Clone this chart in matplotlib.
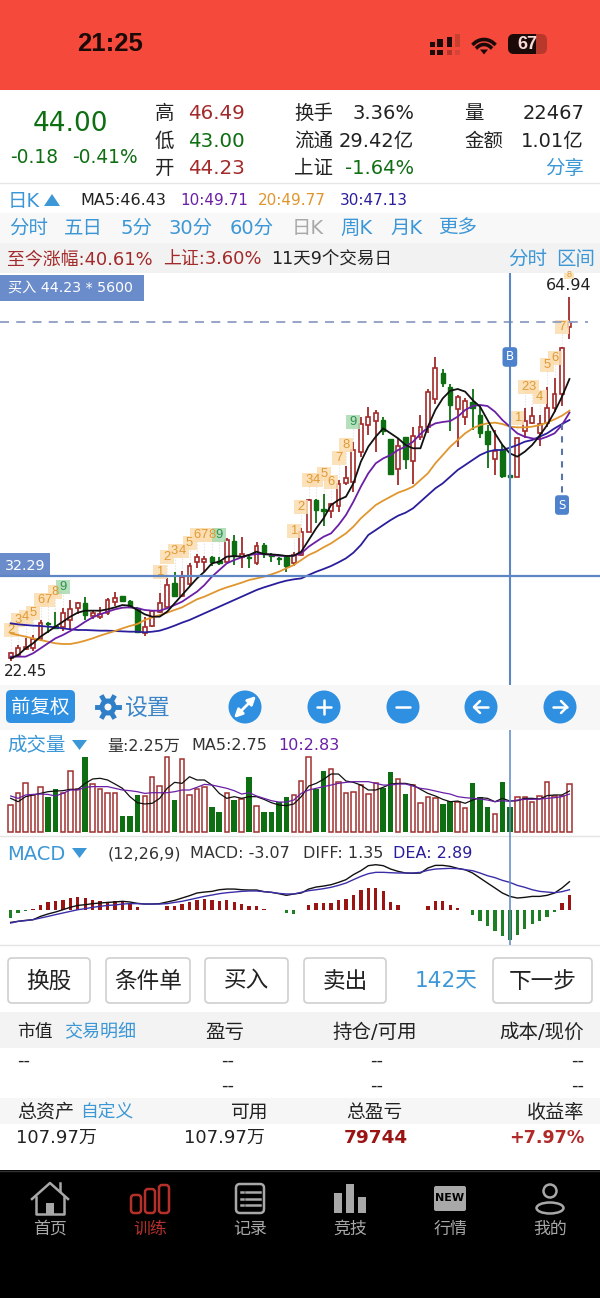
import matplotlib
matplotlib.use('Agg')
import matplotlib.pyplot as plt
import numpy as np
from matplotlib.patches import Rectangle, FancyBboxPatch, Circle, Polygon, Ellipse

plt.rcParams['font.family'] = ['DejaVu Sans', 'Noto Sans CJK SC']

# candles
highs = [23.42,24.20,24.98,25.37,27.13,26.93,28.10,28.50,29.47,29.28,29.78,28.22,28.61,29.67,30.44,29.94,29.47,28.61,27.52,28.30,
         30.33,32.00,32.78,32.90,33.76,34.81,34.62,34.62,34.54,36.69,37.08,36.88,34.66,36.30,36.10,34.93,34.54,34.62,35.13,37.86,
         41.26,41.26,41.88,40.79,43.52,45.16,48.00,50.85,52.10,51.71,50.93,48.31,48.47,48.59,49.68,51.12,54.17,57.95,56.55,54.72,
         53.47,53.08,54.17,52.30,49.95,49.37,47.62,44.10,48.47,51.91,52.02,51.12,54.44,55.42,59.04,64.94]
tops = [23.23,23.89,23.93,24.87,26.82,26.82,26.43,27.99,28.38,29.16,29.16,27.91,27.79,29.47,29.67,29.90,29.35,28.50,26.27,28.18,
        29.08,31.22,31.42,32.20,33.45,34.46,34.31,34.46,34.07,36.49,36.41,34.81,34.54,35.79,35.87,34.74,34.42,34.46,34.74,37.39,
        41.18,41.18,40.09,40.71,43.05,43.75,47.03,50.07,50.93,51.32,50.54,48.31,47.53,48.51,48.71,49.68,53.78,56.63,56.00,54.44,
        53.19,52.77,52.69,51.12,49.25,46.91,47.03,44.10,48.39,50.46,51.05,50.07,51.91,53.58,59.00,62.05]
bots = [22.64,23.03,23.74,23.81,24.87,26.62,26.23,26.35,27.13,28.50,27.71,27.64,27.52,27.99,29.20,29.39,28.69,25.76,25.65,26.43,
        28.10,28.69,29.94,29.94,31.34,33.92,33.88,33.88,33.84,33.96,34.62,34.54,34.42,33.84,34.85,34.62,34.31,33.45,33.76,34.74,
        37.47,40.01,39.93,39.93,40.48,43.13,43.25,46.83,49.95,50.46,49.29,44.22,44.77,45.94,45.70,48.59,49.68,52.96,54.83,52.30,
        51.79,50.85,51.91,49.05,47.73,45.94,44.03,43.91,43.91,49.25,50.15,48.98,50.15,51.98,53.58,61.39]
lows = [22.37,22.84,23.62,23.54,24.71,25.65,26.15,25.88,25.96,27.83,27.13,27.21,27.21,27.71,28.77,29.35,28.61,25.69,25.30,26.35,
        27.99,28.61,29.86,29.78,31.11,33.18,32.78,33.45,33.57,33.84,33.57,33.25,33.25,33.57,34.35,33.96,33.57,32.78,33.45,34.62,
        37.39,38.45,38.13,39.03,39.81,42.93,42.15,46.17,48.78,46.83,48.78,44.14,42.93,44.77,43.00,48.20,48.98,52.41,54.44,49.29,
        47.42,49.95,49.37,48.47,44.88,44.10,43.72,43.91,43.83,48.39,50.03,47.50,49.76,51.51,52.18,59.98]
updown = "RRRRRGGRRRGRRRRGGGRRRRGRRRRGGRGRGRGGGGRRRGGRRRRRRRGGRGRRRRGGRRGGGRGGRRRRRRRR"

ma5 = [22.64,23.03,23.81,24.40,25.18,25.76,26.35,26.93,27.52,27.99,28.22,28.22,28.22,28.38,28.61,28.88,28.80,28.30,27.79,27.52,
       27.52,28.10,29.08,30.05,31.03,32.00,32.78,33.76,33.96,34.54,34.62,34.54,34.74,35.13,34.85,34.81,34.74,34.62,34.66,35.13,
       36.49,37.86,39.03,40.59,41.18,41.57,43.13,45.66,47.42,48.59,49.56,48.98,48.39,47.62,47.23,47.23,49.76,51.71,53.08,53.97,
       54.17,53.86,52.88,52.10,50.54,48.98,47.62,46.64,46.25,46.83,47.62,48.71,49.95,51.51,53.27,55.34]
ma10 = [22.84,22.84,22.84,23.23,23.81,24.40,24.98,25.37,25.84,26.35,26.93,27.44,27.79,28.10,28.38,28.57,28.61,28.50,28.30,28.22,
        28.22,28.50,28.88,29.27,29.86,30.44,31.22,32.20,32.98,33.76,34.15,34.46,34.74,34.85,34.85,34.74,34.66,34.62,34.66,34.93,
        35.71,36.30,36.88,37.27,38.25,39.42,40.98,42.74,44.30,45.47,46.05,46.44,47.03,47.42,48.00,48.90,49.68,50.15,50.31,50.42,
        50.93,51.71,52.18,52.30,52.18,51.51,50.54,49.76,48.98,48.59,48.39,48.28,48.59,48.98,49.95,51.40]
ma20 = [25.57,25.37,25.18,24.98,24.79,24.59,24.40,24.32,24.32,24.48,24.71,24.98,25.30,25.57,25.84,26.15,26.43,26.66,27.13,27.44,
        27.71,27.99,28.30,28.61,29.08,29.55,29.86,30.25,30.64,30.95,31.22,31.50,31.81,32.00,32.20,32.47,32.78,33.18,33.57,34.15,
        34.74,35.13,35.64,36.10,36.69,37.27,38.06,39.03,39.81,40.59,41.10,41.57,42.04,42.35,42.74,43.52,44.30,45.47,46.44,47.42,
        48.20,48.98,49.56,49.95,50.15,50.23,50.07,49.76,49.68,49.68,49.76,49.95,50.23,50.62,51.05,51.63]
ma30 = [26.74,26.62,26.54,26.47,26.43,26.35,26.27,26.15,26.04,25.96,25.96,25.92,25.88,25.88,25.84,25.80,25.76,25.76,25.69,25.76,
        25.88,26.15,26.47,26.82,27.13,27.52,27.91,28.30,28.69,29.08,29.47,29.86,30.25,30.64,30.95,31.22,31.50,31.73,31.89,32.00,
        32.40,32.78,33.10,33.45,33.88,34.35,35.01,35.91,37.08,37.66,38.25,38.83,39.34,39.69,40.20,40.98,41.76,42.54,43.13,43.91,
        44.69,45.27,45.86,46.44,46.83,47.03,47.03,47.30,47.61,48.00,48.20,48.59,48.98,49.56,50.07,50.54]

# TD count labels above the candles
td_index = [0,1,2,3,4,5,6,7, 20,21,22,23,24,25,26,27,28, 38,39,40,41,42,43,44,45,46, 68,69,70,71,72,73,74,75]
td_count = [2,3,4,5,6,7,8,9, 1,2,3,4,5,6,7,8,9, 1,2,3,4,5,6,7,8,9, 1,2,3,4,5,6,7,8]
td_price = [25.96,27.13,27.52,27.91,29.47,29.47,30.44,30.95,
            32.78,34.46,35.25,35.25,36.10,37.08,37.08,37.08,37.08,
            37.59,40.32,43.52,43.52,44.22,43.24,46.05,47.61,50.35,
            50.74,54.37,54.37,53.27,56.98,57.76,61.39,67.63]

volume = [2.40,3.49,4.38,3.29,4.03,3.08,3.79,3.43,5.45,3.79,6.63,4.26,3.79,3.43,3.43,1.42,1.42,3.29,3.23,4.91,
          4.11,6.69,2.84,6.45,3.29,3.79,4.03,2.25,1.78,3.43,2.84,2.90,4.85,2.34,1.78,1.78,2.63,3.14,3.29,4.53,
          6.69,3.82,5.45,5.56,4.41,3.49,3.58,4.17,3.37,4.38,3.88,5.30,4.68,3.34,4.17,2.55,3.14,3.05,2.49,2.75,
          2.63,2.16,4.38,3.14,2.25,1.57,4.44,2.25,3.14,3.14,2.63,3.20,4.44,3.23,3.23,4.26]
vol_ma5 = [2.99,2.69,3.14,3.29,3.43,3.58,3.64,3.67,3.79,3.79,4.32,4.71,4.77,4.62,4.26,3.88,3.14,2.60,2.49,2.55,
           2.99,3.88,4.41,4.32,4.91,4.62,4.62,4.17,3.43,2.99,3.14,2.99,3.14,3.14,2.90,2.60,2.40,2.34,2.49,3.14,
           4.08,4.32,4.68,5.15,5.15,4.53,4.41,4.17,3.73,3.73,3.97,4.26,4.32,4.32,4.17,3.79,3.43,3.20,2.90,2.69,
           2.75,2.55,2.84,3.05,2.99,2.69,2.99,2.75,2.78,2.99,2.99,2.93,3.23,3.29,3.29,3.64]
vol_ma10 = [3.20,2.99,3.29,3.34,3.37,3.34,3.20,3.43,3.73,3.73,3.97,4.03,4.03,4.03,3.88,3.73,3.67,3.58,3.43,3.49,
            3.49,3.49,3.58,3.73,3.73,3.97,4.23,4.17,4.03,3.88,3.67,3.37,3.49,3.20,2.99,2.78,2.66,2.66,2.84,3.43,
            3.73,3.88,4.03,4.17,4.32,4.41,4.47,4.47,4.47,4.32,4.17,4.17,4.26,4.26,4.08,3.88,3.79,3.64,3.49,3.37,
            3.14,3.05,2.99,2.93,2.84,2.69,2.78,2.72,2.84,2.90,2.90,2.93,2.99,3.05,3.14,3.37]

macd = [-0.83,-0.31,-0.07,0.07,0.48,0.79,0.90,1.07,1.24,1.35,1.24,1.04,0.90,0.86,0.97,0.93,0.66,0.28,0.02,0.02,
        0.02,0.38,0.38,0.66,0.86,1.07,1.17,1.07,0.97,1.04,0.79,0.62,0.38,0.38,0.14,0.02,-0.03,-0.31,-0.41,0.02,
        0.48,0.69,0.69,0.76,1.00,1.14,1.55,2.04,2.31,2.31,1.93,0.83,0.48,0.02,-0.03,-0.03,0.38,0.90,0.90,0.48,
        0.21,0.03,-0.48,-1.10,-1.69,-2.21,-2.73,-3.07,-2.56,-1.97,-1.42,-1.17,-0.76,-0.24,0.72,1.59]
diff = [-1.28,-1.17,-1.07,-1.00,-0.66,-0.41,-0.21,0.03,0.28,0.48,0.55,0.66,0.72,0.79,0.83,0.90,0.83,0.69,0.62,0.62,
        0.66,0.83,1.00,1.24,1.48,1.76,1.86,1.93,2.10,2.17,2.17,2.10,2.07,2.07,1.90,1.83,1.69,1.52,1.66,1.76,
        2.17,2.38,2.48,2.62,2.86,3.14,3.66,4.07,4.59,4.69,4.59,4.24,4.00,3.83,3.80,3.83,4.35,4.62,4.62,4.52,
        4.31,4.17,3.83,3.31,2.79,2.28,1.76,1.41,1.24,1.31,1.41,1.41,1.52,1.76,2.28,2.93]
dea = [-1.35,-1.17,-1.10,-1.00,-0.83,-0.66,-0.48,-0.31,-0.14,0.03,0.14,0.28,0.38,0.48,0.52,0.62,0.66,0.66,0.62,0.62,
       0.62,0.66,0.79,0.90,1.07,1.24,1.41,1.55,1.69,1.79,1.86,1.93,1.97,1.97,1.90,1.83,1.72,1.66,1.66,1.83,
       2.00,2.10,2.21,2.35,2.55,2.79,3.14,3.48,3.76,3.90,3.90,3.86,3.83,3.83,3.83,3.90,4.11,4.24,4.28,4.31,
       4.28,4.17,4.07,3.83,3.55,3.35,3.07,2.86,2.55,2.35,2.10,1.93,1.86,1.79,1.90,2.10]

RED = '#A32A2A'
DARK_RED = '#9A1414'
GREEN = '#0E6E12'
BLUE = '#3C97D6'
BTN_BLUE = '#2F90E2'
BOX_BLUE = '#6A8CCB'
LINE_BLUE = '#5F86C4'
PURPLE = '#6A1FA5'
ORANGE = '#E0962E'
NAVY = '#2A1E9C'
TXT = '#222222'
STATUS = '#1C0A08'

W, H = 600, 1298
fig = plt.figure(figsize=(W / 100, H / 100), dpi=100)
bg = fig.add_axes([0, 0, 1, 1])
bg.set_xlim(0, W)
bg.set_ylim(H, 0)
bg.axis('off')


def txt(x, y, s, size=14, color=TXT, ha='left', **kw):
    # va center sits a little high with these fonts
    bg.text(x, y + size * 0.08, s, fontsize=size, color=color, ha=ha, va='center', **kw)


def band(y0, y1, color, x0=0, x1=W):
    bg.add_patch(Rectangle((x0, y0), x1 - x0, y1 - y0, fc=color, ec='none', zorder=0))


def round_box(x0, y0, x1, y1, fc, ec='none', lw=1.0, r=3, z=1):
    bg.add_patch(FancyBboxPatch((x0 + r, y0 + r), x1 - x0 - 2 * r, y1 - y0 - 2 * r,
                                boxstyle='round,pad=%d' % r, fc=fc, ec=ec, lw=lw, zorder=z))


def tri(x0, x1, y0, y1, up=True):
    if up:
        pts = [(x0, y1), (x1, y1), ((x0 + x1) / 2, y0)]
    else:
        pts = [(x0, y0), (x1, y0), ((x0 + x1) / 2, y1)]
    bg.add_patch(Polygon(pts, fc=BLUE, ec='none'))


def panel(top, bottom, ymin, ymax):
    ax = fig.add_axes([0, 1 - bottom / H, 1, (bottom - top) / H])
    ax.patch.set_alpha(0)
    ax.axis('off')
    ax.set_xlim(-10.7 / 7.45, (W - 10.7) / 7.45)
    ax.set_ylim(ymin, ymax)
    return ax


# ---------- status bar ----------
band(0, 90, '#F4493B')
txt(110, 43, '21:25', 18.5, STATUS, 'center', fontweight='bold', family='Liberation Sans')
for x0, w, y_top, c_top, c_low in [(430, 5, 42, STATUS, STATUS), (437, 6, 39, STATUS, STATUS),
                                   (447, 5, 37, STATUS, '#B5372C'), (455, 5, 34, '#C8402F', '#D9443A')]:
    bg.add_patch(Rectangle((x0, y_top), w, 47 - y_top, fc=c_top, ec='none'))
    bg.add_patch(Rectangle((x0, 49.5), w, 5, fc=c_low, ec='none'))
ang = np.radians(np.linspace(-135, -45, 20))
for r in [14.5, 9.5]:
    bg.plot(484 + r * np.cos(ang), 54 + r * np.sin(ang), color=STATUS, lw=2.6)
bg.add_patch(Polygon([(484, 54.5), (480, 49.5), (488, 49.5)], fc=STATUS, ec='none'))
round_box(508, 34, 547, 54, '#B8382C', r=6)
round_box(508, 34, 536, 54, STATUS, r=6, z=2)
bg.add_patch(Rectangle((530, 34), 6, 20, fc=STATUS, ec='none', zorder=2))
bg.text(527, 44.5, '67', fontsize=13, color='#F7DAD6', ha='center', va='center', fontweight='bold',
        family='Liberation Sans', zorder=3)

# ---------- quote block ----------
txt(70, 122, '44.00', 19, GREEN, 'center')
txt(10, 156, '-0.18', 13.4, GREEN)
txt(72, 156, '-0.41%', 13.4, GREEN)
for y, a, b, c in [(112, '高', '46.49', RED), (140, '低', '43.00', GREEN), (167, '开', '44.23', RED)]:
    txt(155, y, a, 14)
    txt(245, y, b, 14.3, c, 'right')
for y, a, b, c in [(112, '换手', '3.36%', TXT), (140, '流通', '29.42亿', TXT), (167, '上证', '-1.64%', GREEN)]:
    txt(294, y, a, 14)
    txt(414, y, b, 14, c, 'right')
txt(464, 112, '量', 14)
txt(584, 112, '22467', 14, TXT, 'right')
txt(464, 140, '金额', 14)
txt(584, 140, '1.01亿', 14, TXT, 'right')
txt(584, 167, '分享', 14, BLUE, 'right')
bg.plot([0, W], [183, 183], color='#E6E6E6', lw=1)

txt(8, 200, '日K', 14, BLUE)
tri(44, 60, 194, 206)
txt(80, 200, 'MA5:46.43', 11.5)
txt(180, 200, '10:49.71', 11, PURPLE)
txt(258, 200, '20:49.77', 11, ORANGE)
txt(340, 200, '30:47.13', 11, NAVY)

band(213, 243, '#F8F8F8')
band(243, 273, '#F2F2F2')
for x0, s, c in [(9, '分时', BLUE), (64, '五日', BLUE), (120, '5分', BLUE), (168, '30分', BLUE), (230, '60分', BLUE),
                 (292, '日K', '#A8A8A8'), (340, '周K', BLUE), (390, '月K', BLUE), (438, '更多', BLUE)]:
    txt(x0, 227, s, 14, c)
txt(7, 258, '至今涨幅:40.61%', 12.9, RED)
txt(163, 258, '上证:3.60%', 12.9, RED)
txt(271, 258, '11天9个交易日', 12.6, TXT)
txt(508, 258, '分时', 14, BLUE)
txt(556, 258, '区间', 14, BLUE)

# ---------- price panel ----------
x = np.arange(len(highs))
price = panel(273, 685, 19.52, 67.75)
up = np.array([c == 'R' for c in updown])
highs_a, lows_a, tops_a, bots_a = map(np.array, (highs, lows, tops, bots))
cols = [RED if u else GREEN for u in up]
price.vlines(x, bots_a, lows_a, colors=cols, lw=1.3, zorder=2)
price.vlines(x, tops_a, highs_a, colors=cols, lw=1.3, zorder=2)
price.bar(x[up], (tops_a - bots_a)[up], bottom=bots_a[up], width=0.52, fc='white', ec=RED, lw=1.2, zorder=3)
price.bar(x[~up], (tops_a - bots_a)[~up], bottom=bots_a[~up], width=0.6, fc=GREEN, ec=GREEN, lw=1.0, zorder=3)

for i, n, p in zip(td_index, td_count, td_price):
    fc, tc = ('#A9DAB0', '#2F8F55') if n == 9 else ('#FBDDB0', '#E09A35')
    small = i == 75
    if not small:
        price.vlines(i, highs[i], p, colors='#DDDDDD', lw=0.8, linestyles=':', zorder=1)
    # square first, digit above it, so neighbours do not wipe each other out
    price.scatter([i], [p], s=45 if small else 95, marker='s', color=fc, alpha=0.85, linewidths=0, zorder=4)
    # narrow digits, the candles are only 7.45 px apart
    price.text(i, p, str(n), fontsize=6.5 if small else 9.4, color=tc, ha='center', va='center', zorder=4.5,
               family='Liberation Sans')

price.plot(x, ma30, color=NAVY, lw=1.3, zorder=5)
price.plot(x, ma20, color=ORANGE, lw=1.3, zorder=5)
price.plot(x, ma10, color=PURPLE, lw=1.3, zorder=5)
price.plot(x, ma5, color='#111111', lw=1.3, zorder=5)

price.axhline(32.29, color=LINE_BLUE, lw=1.6, zorder=6)
price.plot([-1.44, 77.5], [62.05, 62.05], color='#8E9EC4', lw=1.3, dashes=(5, 4), zorder=6)
price.axvline(67, color=LINE_BLUE, lw=1.5, zorder=6)
price.vlines(74, 40.59, 50.54, color='#5B74A8', lw=1.5, linestyles=(0, (3, 3)), zorder=6)
for i, p, s in [(67, 57.92, 'B'), (74, 40.59, 'S')]:
    price.text(i, p, s, fontsize=8.5, color='white', ha='center', va='center', zorder=7,
               bbox=dict(boxstyle='round,pad=0.28', fc='#4F82CC', ec='none'))

band(275, 301, BOX_BLUE, 0, 144)
txt(8, 288, '买入 44.23 * 5600', 10.2, 'white')
band(553, 577, BOX_BLUE, 0, 50)
txt(5, 565, '32.29', 10.3, 'white')
bg.text(4, 671, '22.45', fontsize=11, color=TXT, va='center', zorder=8)
bg.text(546, 286, '64.94', fontsize=11.5, color=TXT, va='center', zorder=8)

# ---------- tool strip ----------
band(685, 730, '#F7F7F7')
round_box(6, 690, 75, 723, BTN_BLUE, r=5)
bg.text(40.5, 707, '前复权', fontsize=14, color='white', ha='center', va='center', zorder=3)
for a in np.radians(np.arange(0, 360, 60)):
    bg.plot([108, 108 + 11 * np.cos(a)], [707, 707 + 11 * np.sin(a)], color='#2F7FC8', lw=3.5, zorder=1)
bg.add_patch(Circle((108, 707), 8.5, fc='#2F7FC8', ec='none', zorder=2))
bg.add_patch(Circle((108, 707), 3.5, fc='#F7F7F7', ec='none', zorder=3))
txt(124, 707, '设置', 16.5, '#3C85C8')
for cx in [245, 324, 403, 481, 560]:
    bg.add_patch(Circle((cx, 707), 16.5, fc=BTN_BLUE, ec='none', zorder=1))
wkw = dict(color='white', lw=1.8, zorder=2, solid_capstyle='round')
bg.annotate('', xy=(256, 696), xytext=(234, 718), zorder=3,
            arrowprops=dict(arrowstyle='<|-|>', color='white', lw=2, shrinkA=0, shrinkB=0, mutation_scale=12))
bg.plot([317, 331], [707, 707], **wkw)
bg.plot([324, 324], [700, 714], **wkw)
bg.plot([396, 410], [707, 707], **wkw)
bg.plot([474, 488], [707, 707], **wkw)
bg.plot([480, 474, 480], [701, 707, 713], **wkw)
bg.plot([553, 567], [707, 707], **wkw)
bg.plot([561, 567, 561], [701, 707, 713], **wkw)

# ---------- volume panel ----------
txt(7, 745, '成交量', 14, BLUE)
tri(72, 87, 740, 750, up=False)
txt(107, 745, '量:2.25万', 11.5, '#333333')
txt(191, 745, 'MA5:2.75', 11.5, '#333333')
txt(278, 745, '10:2.83', 11.5, PURPLE)

vol = panel(730, 836, -0.355, 9.06)
vol_a = np.array(volume)
vol.bar(x[up], vol_a[up], width=0.6, fc='white', ec='#A03030', lw=1.1, zorder=2)
vol.bar(x[~up], vol_a[~up], width=0.76, fc=GREEN, ec='none', zorder=2)
vol.plot(x, vol_ma5, color='#111111', lw=0.9, zorder=3)
vol.plot(x, vol_ma10, color=PURPLE, lw=0.9, zorder=3)
vol.axvline(67, color=LINE_BLUE, lw=1.3, alpha=0.85, zorder=4)
bg.plot([0, W], [836, 836], color='#E4E4E4', lw=1)

# ---------- macd panel ----------
txt(7, 853, 'MACD', 14, BLUE)
tri(72, 87, 848, 858, up=False)
txt(108, 853, '(12,26,9)', 11.5, '#333333')
txt(190, 853, 'MACD: -3.07', 11.5, '#333333')
txt(303, 853, 'DIFF: 1.35', 11.5, '#333333')
txt(393, 853, 'DEA: 2.89', 11.5, NAVY)

mac = panel(836, 945, -3.62, 7.66)
macd_a = np.array(macd)
mac.bar(x, macd_a, width=0.45, color=[DARK_RED if v > 0 else '#1F7F24' for v in macd_a], zorder=2)
mac.plot(x, diff, color='#111111', lw=1.0, zorder=3)
mac.plot(x, dea, color='#3A2EA8', lw=1.0, zorder=3)
mac.axvline(67, color=LINE_BLUE, lw=1.3, alpha=0.85, zorder=4)
bg.plot([0, W], [945, 945], color='#E4E4E4', lw=1)

# ---------- trade buttons ----------
for x0, x1, s in [(8, 90, '换股'), (106, 190, '条件单'), (205, 288, '买入'), (304, 386, '卖出'), (493, 592, '下一步')]:
    round_box(x0, 958, x1, 1003, 'white', ec='#CFCFCF', lw=1.2, r=4)
    bg.text((x0 + x1) / 2, 981, s, fontsize=16.3, color=TXT, ha='center', va='center', zorder=3)
txt(446, 980, '142天', 15.6, BLUE, 'center')

# ---------- account table ----------
band(1012, 1048, '#F3F3F3')
band(1098, 1124, '#F6F6F6')
txt(17, 1031, '市值', 12.8)
txt(64, 1031, '交易明细', 13, BLUE)
txt(244, 1031, '盈亏', 14, TXT, 'right')
txt(417, 1031, '持仓/可用', 14, TXT, 'right')
txt(584, 1031, '成本/现价', 14, TXT, 'right')
txt(17, 1060, '--', 13)
for xr in [234, 383, 584]:
    for y in [1060, 1085]:
        txt(xr, y, '--', 13, TXT, 'right')
txt(17, 1111, '总资产', 13.7)
txt(80, 1111, '自定义', 12.8, BLUE)
txt(268, 1111, '可用', 13.5, TXT, 'right')
txt(402, 1111, '总盈亏', 13.5, TXT, 'right')
txt(584, 1111, '收益率', 13.8, TXT, 'right')
txt(16, 1137, '107.97万', 13)
txt(184, 1137, '107.97万', 13)
txt(408, 1137, '79744', 13.2, DARK_RED, 'right', fontweight='bold')
txt(584, 1137, '+7.97%', 12.6, '#B02A2A', 'right', fontweight='bold')

# ---------- tab bar ----------
band(1170, H, '#000000')
bg.plot([0, W], [1171, 1171], color='#333333', lw=1)
GREY = '#A8A8A8'
TAB_RED = '#B5302B'
for cx, s, c in [(50, '首页', GREY), (150, '训练', TAB_RED), (250, '记录', GREY), (350, '竞技', GREY), (450, '行情', GREY), (550, '我的', GREY)]:
    txt(cx, 1228, s, 12.2, c, 'center')
# home
bg.plot([32, 50, 68], [1199, 1183, 1199], color=GREY, lw=1.8)
bg.plot([36, 36, 64, 64], [1197, 1214, 1214, 1197], color=GREY, lw=1.8)
bg.plot([60, 60], [1183, 1191], color=GREY, lw=1.8)
bg.add_patch(Rectangle((46, 1203), 8, 11, fc=GREY, ec='none'))
# training
for x0, y0 in [(131, 1195), (145, 1189), (159, 1185)]:
    round_box(x0, y0, x0 + 10, 1213, 'none', ec=TAB_RED, lw=1.8, r=3)
# record
round_box(236, 1184, 264, 1213, 'none', ec=GREY, lw=1.8, r=4)
for y in [1192, 1198.5, 1205]:
    bg.plot([241, 243], [y, y], color=GREY, lw=1.8)
    bg.plot([246, 260], [y, y], color=GREY, lw=1.8)
# contest
for x0, y0 in [(334, 1193), (346, 1184), (358, 1197)]:
    bg.add_patch(Rectangle((x0, y0), 8, 1213 - y0, fc=GREY, ec='none'))
# new
round_box(434, 1186, 466, 1211, GREY, r=2)
bg.text(450, 1198, 'NEW', fontsize=8, color='black', ha='center', va='center', fontweight='bold', zorder=3)
# me
bg.add_patch(Circle((550, 1191), 6.5, fc='none', ec=GREY, lw=1.8))
bg.add_patch(Ellipse((550, 1208), 27, 11, fc='none', ec=GREY, lw=1.8))

fig.savefig('out.png', dpi=100)
